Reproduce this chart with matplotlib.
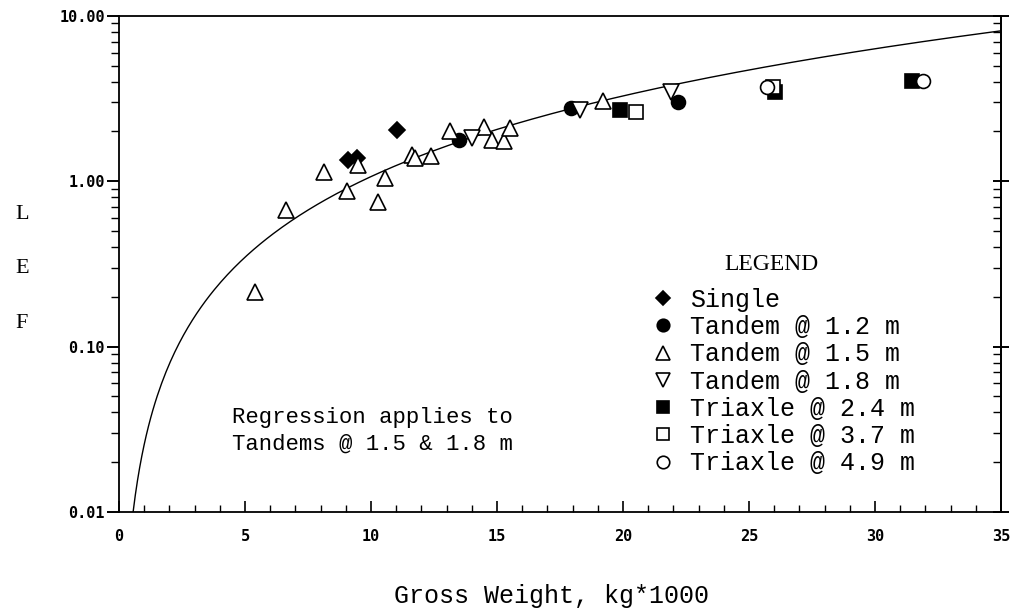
import numpy as np
import matplotlib
matplotlib.use("Agg")
import matplotlib.pyplot as plt
from matplotlib.ticker import FixedLocator, FixedFormatter, LogLocator, NullFormatter, MultipleLocator

# data (gross weight kg*1000, LEF)
single_x = [9.07, 9.46, 11.02]
single_y = [1.35, 1.38, 2.05]

tandem12_x = [13.5, 17.95, 22.2]
tandem12_y = [1.78, 2.77, 3.0]

tandem15_x = [5.38, 6.63, 8.15, 9.04, 9.5, 10.28, 10.54, 11.61, 11.74, 12.4,
              13.13, 14.5, 14.8, 15.26, 15.5, 19.2]
tandem15_y = [0.214, 0.67, 1.145, 0.874, 1.255, 0.753, 1.04, 1.44, 1.38, 1.43,
              2.0, 2.12, 1.78, 1.76, 2.09, 3.04]

tandem18_x = [14.0, 18.3, 21.9]
tandem18_y = [1.82, 2.7, 3.45]

triaxle24_x = [19.9, 26.05, 31.45]
triaxle24_y = [2.7, 3.45, 4.05]

triaxle37_x = [20.5, 25.95]
triaxle37_y = [2.62, 3.7]

triaxle49_x = [25.7, 31.9]
triaxle49_y = [3.7, 4.05]

x_ticks = [0, 5, 10, 15, 20, 25, 30, 35]
x_labels = ["0", "5", "10", "15", "20", "25", "30", "35"]
y_ticks = [0.01, 0.1, 1, 10]
y_labels = ["0.01", "0.10", "1.00", "10.00"]

# regression LEF = a * W^b (tandems @ 1.5 & 1.8 m)
reg_a = 0.0256
reg_b = 1.62

tick_font = {"family": "DejaVu Sans Mono", "weight": "bold", "size": 11}
mono = "Liberation Mono"
serif = "Liberation Serif"

fig = plt.figure(figsize=(10.11, 6.11), dpi=100)
ax = fig.add_axes([0.1177, 0.162, 0.8724, 0.812])

w = np.linspace(0.3, 35, 400)
ax.plot(w, reg_a * w ** reg_b, color="black", lw=1.0, zorder=1)

mk = dict(linestyle="none", color="black", markeredgewidth=1.2)
ax.plot(single_x, single_y, marker="D", markersize=8, label="Single", **mk)
ax.plot(tandem12_x, tandem12_y, marker="o", markersize=10, label="Tandem @ 1.2 m", **mk)
ax.plot(tandem15_x, tandem15_y, marker="^", markersize=11, markerfacecolor="white",
        label="Tandem @ 1.5 m", **mk)
ax.plot(tandem18_x, tandem18_y, marker="v", markersize=11, markerfacecolor="white",
        label="Tandem @ 1.8 m", **mk)
ax.plot(triaxle24_x, triaxle24_y, marker="s", markersize=10, label="Triaxle @ 2.4 m", **mk)
ax.plot(triaxle37_x, triaxle37_y, marker="s", markersize=10, markerfacecolor="white",
        label="Triaxle @ 3.7 m", **mk)
ax.plot(triaxle49_x, triaxle49_y, marker="o", markersize=10, markerfacecolor="white",
        label="Triaxle @ 4.9 m", **mk)

ax.set_yscale("log")
ax.set_xlim(0, 35)
ax.set_ylim(0.01, 10)

ax.xaxis.set_major_locator(FixedLocator(x_ticks))
ax.xaxis.set_major_formatter(FixedFormatter(x_labels))
ax.xaxis.set_minor_locator(MultipleLocator(1))
ax.yaxis.set_major_locator(FixedLocator(y_ticks))
ax.yaxis.set_major_formatter(FixedFormatter(y_labels))
ax.yaxis.set_minor_locator(LogLocator(base=10, subs=np.arange(2, 10)))
ax.yaxis.set_minor_formatter(NullFormatter())
for lab in ax.get_xticklabels() + ax.get_yticklabels():
    lab.set_fontproperties(tick_font)

ax.tick_params(axis="x", which="major", direction="in", length=8, width=1.2, pad=12)
ax.tick_params(axis="x", which="minor", direction="in", length=5, width=1)
ax.tick_params(axis="y", which="major", direction="out", length=9, width=1.4, pad=1)
ax.tick_params(axis="y", which="minor", direction="out", length=6, width=1)
for sp in ax.spines.values():
    sp.set_linewidth(1.3)

# right side ticks point inward
sec = ax.secondary_yaxis("right")
sec.yaxis.set_major_locator(FixedLocator(y_ticks))
sec.yaxis.set_minor_locator(LogLocator(base=10, subs=np.arange(2, 10)))
sec.yaxis.set_minor_formatter(NullFormatter())
sec.tick_params(which="major", direction="inout", length=12, width=1.4, labelright=False)
sec.tick_params(which="minor", direction="in", length=6, width=1, labelright=False)
sec.spines["right"].set_linewidth(1.3)

ax.set_xlabel("Gross Weight, kg*1000", family=mono, fontsize=18)
ax.xaxis.set_label_coords(0.49, -0.145)
ax.set_ylabel("L\nE\nF", family=serif, fontsize=16, rotation=0, linespacing=3.55,
              va="center", ha="center")
ax.yaxis.set_label_coords(-0.11, 0.49)

ax.text(0.128, 0.212, "Regression applies to\nTandems @ 1.5 & 1.8 m", transform=ax.transAxes,
        family=mono, fontsize=16, va="top", ha="left", linespacing=1.34)

ax.text(0.740, 0.498, "LEGEND", transform=ax.transAxes, family=serif, fontsize=17,
        ha="center", va="center")
leg = ax.legend(loc="upper left", bbox_to_anchor=(0.604, 0.4516), frameon=False,
                prop={"family": mono, "size": 18}, borderaxespad=0, borderpad=0,
                markerscale=0.9, handlelength=0.9, handletextpad=0.64, labelspacing=0.13)

fig.savefig("out.png", dpi=100)
